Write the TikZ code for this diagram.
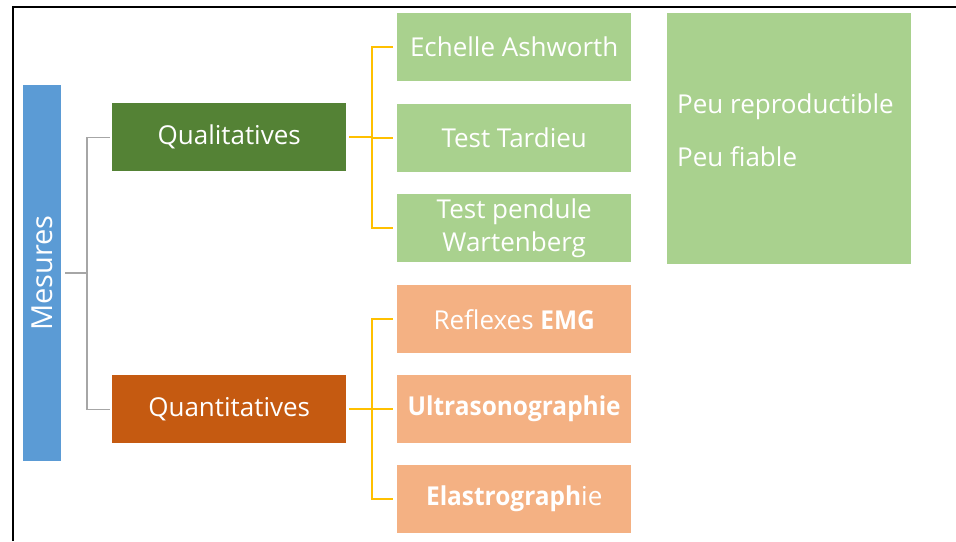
\documentclass[tikz,border=0pt]{standalone}
\usepackage{fontspec}
\setmainfont{Open Sans}[BoldFeatures={FakeStretch=0.94}]
\begin{document}
\begin{tikzpicture}[x=1pt,y=-1pt,
  box/.style={minimum width=234pt,minimum height=68pt,anchor=north west,inner sep=0pt,text=white,font=\fontsize{26}{33}\selectfont,align=center},
  catbox/.style={box},
  leafqual/.style={box,fill=qualleaf},
  leafquant/.style={box,fill=quantleaf},
  notetext/.style={anchor=base west,text=white,font=\fontsize{26}{30}\selectfont,inner sep=0pt},
  grayline/.style={draw=linegray,line width=1.3pt},
  yelline/.style={draw=linegold,line width=1.5pt}]
\definecolor{mesblue}{HTML}{5B9BD5}
\definecolor{qualdark}{HTML}{548235}
\definecolor{quantdark}{HTML}{C55A11}
\definecolor{qualleaf}{HTML}{A9D18E}
\definecolor{quantleaf}{HTML}{F4B183}
\definecolor{linegray}{HTML}{A6A6A6}
\definecolor{linegold}{HTML}{FFC000}
\useasboundingbox (0,0) rectangle (956,541);
\fill[white] (0,0) rectangle (956,541);
% frame
\draw[line width=2.5pt,black] (13,541) -- (13,7) -- (956,7);

% root
\node[anchor=north west,fill=mesblue,minimum width=38pt,minimum height=376pt,inner sep=0pt] (mes) at (23,85) {};
\node[rotate=90,text=white,font=\fontsize{29}{32}\selectfont] (meslbl) at (mes.center) {Mesures};

% categories
\node[catbox,fill=qualdark] (qual) at (112,103) {Qualitatives};
\node[catbox,fill=quantdark] (quant) at (112,375) {Quantitatives};

% leaves
\node[leafqual] (ash) at (397,13) {Echelle Ashworth};
\node[leafqual] (tar) at (397,104) {Test Tardieu};
\node[leafqual] (pen) at (397,194) {Test pendule\\Wartenberg};
\node[leafquant] (emg) at (397,285) {Reflexes \textbf{EMG}};
\node[leafquant] (ult) at (397,375) {\textbf{Ultrasonographie}};
\node[leafquant] (ela) at (397,465) {\textbf{Elastrograph}ie};

% note box
\node[anchor=north west,fill=qualleaf,minimum width=244pt,minimum height=251pt,inner sep=0pt] (note) at (667,13) {};
\node[notetext] (note1) at (677,113) {Peu reproductible};
\node[notetext] (note2) at (677,166) {Peu fiable};

% gray connectors
\coordinate (gx) at (87,273);
\draw[grayline] ([xshift=4pt]mes.east |- gx) -- (gx);
\draw[grayline] ([xshift=-2pt]qual.west) -| (gx) |- ([xshift=-2pt]quant.west);

% gold connectors
\coordinate (qy) at (372,0);
\draw[yelline] ([xshift=3pt]qual.east) -- (qy |- qual.east);
\draw[yelline] ([xshift=-4pt]ash.west) -| (qy |- qual.east) |- ([xshift=-4pt]pen.west);
\draw[yelline] (qy |- tar.west) -- ([xshift=-4pt]tar.west);
\draw[yelline] ([xshift=3pt]quant.east) -- (qy |- quant.east);
\draw[yelline] ([xshift=-4pt]emg.west) -| (qy |- quant.east) |- ([xshift=-4pt]ela.west);
\draw[yelline] (qy |- ult.west) -- ([xshift=-4pt]ult.west);
\end{tikzpicture}
\end{document}
